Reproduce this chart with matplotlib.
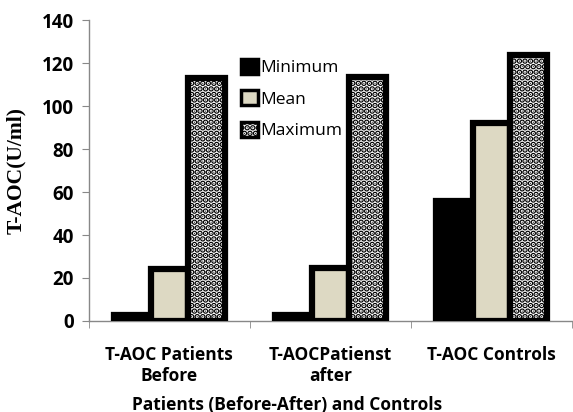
import matplotlib.pyplot as plt
import numpy as np

categories = ["T-AOC Patients\nBefore", "T-AOCPatienst\nafter", "T-AOC Controls"]
series_names = ["Minimum", "Mean", "Maximum"]
minimum = [3, 3, 56]
mean = [24, 24.5, 92]
maximum = [113, 113.5, 124]

colors = ["black", "#DDD9C3", "white"]
hatches = [None, None, "..."]

plt.rcParams['hatch.linewidth'] = 3.0

fig = plt.figure(figsize=(5.73, 4.12), dpi=100)
ax = fig.add_axes([0.155, 0.221, 0.843, 0.730])

x = np.arange(len(categories))
w = 0.23
for i, vals in enumerate([minimum, mean, maximum]):
    ax.bar(x + (i - 1) * w, vals, width=w, color=colors[i], edgecolor="black",
           linewidth=4.5, hatch=hatches[i], label=series_names[i], zorder=3)

ax.set_xlim(-0.5, 2.5)
ax.set_ylim(0, 140)
ax.set_yticks(range(0, 141, 20))
ax.set_xticks(x)
ax.set_xticklabels(categories, fontfamily="Open Sans", fontweight="bold", fontsize=12.5,
                   multialignment="center", linespacing=1.2)
ax.set_xticks([-0.5, 0.5, 1.5, 2.5], minor=True)
ax.tick_params(axis="x", which="major", length=0, pad=18)
ax.tick_params(axis="x", which="minor", length=5, color="#888888", direction="out")
ax.tick_params(axis="y", length=5, color="#888888", direction="out", pad=6)
for lbl in ax.get_yticklabels():
    lbl.set_fontfamily("Open Sans")
    lbl.set_fontweight("bold")
    lbl.set_fontsize(13.5)

for s in ["top", "right"]:
    ax.spines[s].set_visible(False)
for s in ["left", "bottom"]:
    ax.spines[s].set_color("#888888")
    ax.spines[s].set_linewidth(1)

ax.set_ylabel("T-AOC(U/ml)", fontfamily="Liberation Serif", fontweight="bold", fontsize=15.5)
ax.yaxis.set_label_coords(-0.13, 0.5)
ax.set_xlabel("Patients (Before-After) and Controls", fontfamily="Open Sans",
              fontweight="bold", fontsize=12.5)
ax.xaxis.set_label_coords(0.41, -0.248)

leg = ax.legend(loc="upper left", bbox_to_anchor=(0.298, 0.90), frameon=False,
                prop={"family": "Open Sans", "size": 12.5}, handlelength=0.95,
                handleheight=0.95, handletextpad=0.15, labelspacing=0.8, borderpad=0)
for h in leg.legend_handles:
    h.set_linewidth(2.5)

fig.savefig("out.png", dpi=100)
